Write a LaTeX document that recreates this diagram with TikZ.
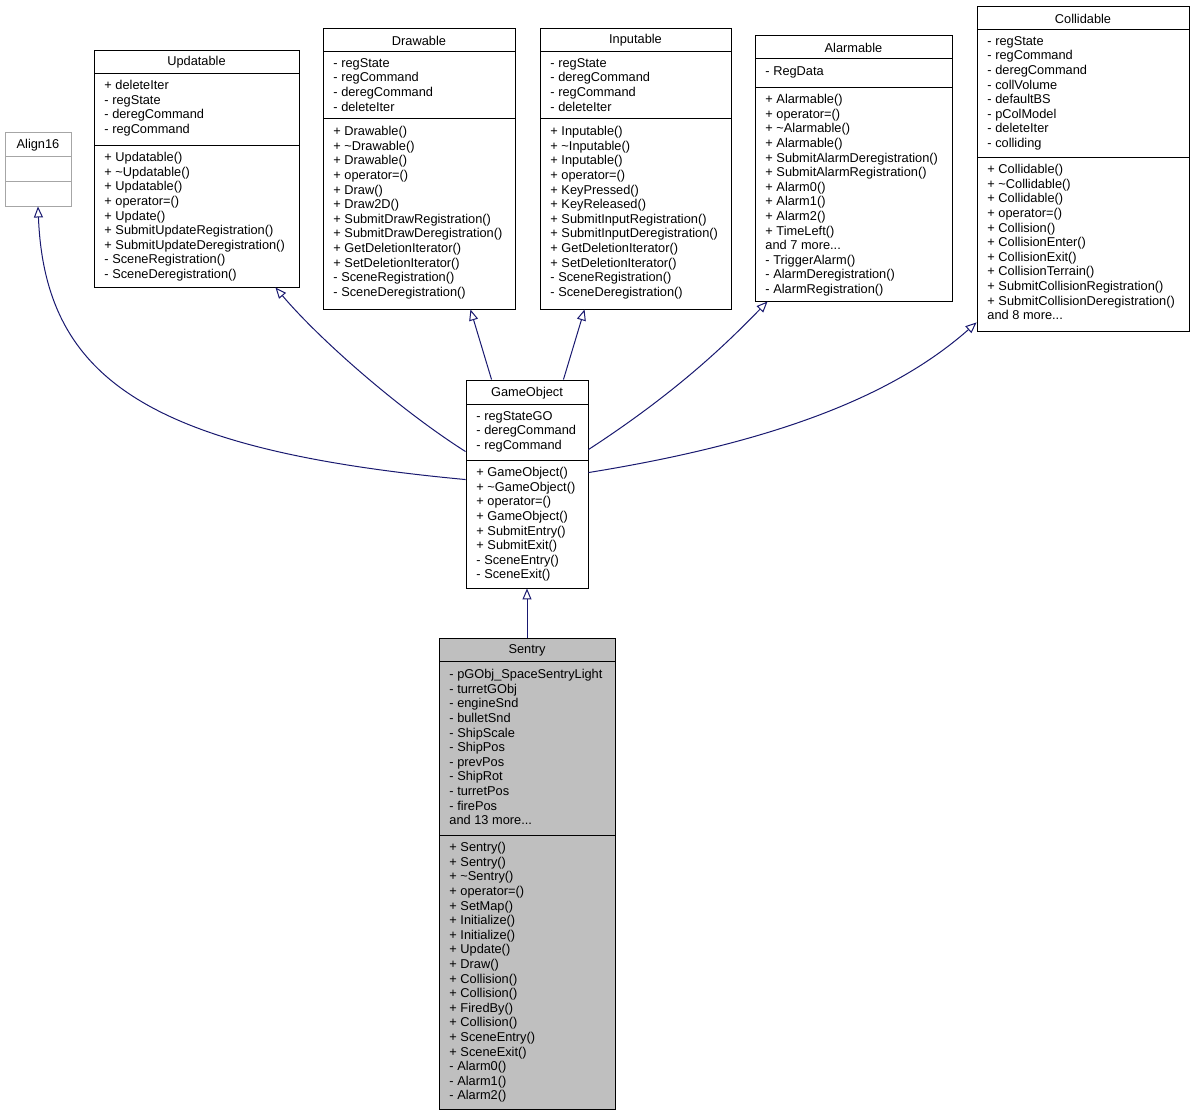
\documentclass[tikz,border=0pt]{standalone}
\usepackage{fontspec}
\setmainfont{Liberation Sans}
\usetikzlibrary{arrows.meta}
\definecolor{edgec}{HTML}{191970}
\definecolor{sentryfill}{HTML}{BFBFBF}
\newcommand\umlcls[9]{%
  \node[draw=#9,inner sep=0,minimum width={(#4-#2)*1pt},minimum height={(#5-#3)*1pt}] (#1) at ({(#2+#4)/2},{(#3+#5)/2}) {};
  \draw[#9] (#2,#6) -- (#4,#6) (#2,#7) -- (#4,#7);
  \node[ttl] (#1-t) at ({(#2+#4)/2},{(#3+#6)/2+1}) {#8};
}
\begin{document}
\begin{tikzpicture}[x=1pt,y=-1pt,line width=0.9pt,
  ttl/.style={inner sep=0,font=\fontsize{12.8}{14.6}\selectfont},
  txt/.style={anchor=north west,inner sep=0,align=left,font=\fontsize{12.8}{14.6}\selectfont},
  inh/.style={draw=edgec,line width=1pt,-{Triangle[open,length=11pt,width=9pt]}}]
\useasboundingbox[fill=white] (0,0) rectangle (1195,1116);
% Sentry
\fill[sentryfill] (439,638) rectangle (615,1109);
\umlcls{align}{5}{132}{71}{206}{156}{181}{Align16}{gray!70}
\umlcls{upd}{94}{50}{299}{287}{73}{145}{Updatable}{black}
\umlcls{drw}{323}{28}{515}{309}{51}{118}{Drawable}{black}
\umlcls{inp}{540}{28}{731}{309}{51}{118}{Inputable}{black}
\umlcls{alm}{755}{35}{952}{301}{58}{87}{Alarmable}{black}
\umlcls{col}{977}{6}{1189}{331}{29}{157}{Collidable}{black}
\umlcls{go}{466}{380}{588}{588}{404}{460}{GameObject}{black}
\umlcls{sen}{439}{638}{615}{1109}{661}{835}{Sentry}{black}
% texts
\node[txt] (upda) at (104,80) {+ deleteIter\\- regState\\- deregCommand\\- regCommand};
\node[txt] (updm) at (104,152) {+ Updatable()\\+ \textasciitilde Updatable()\\+ Updatable()\\+ operator=()\\+ Update()\\+ SubmitUpdateRegistration()\\+ SubmitUpdateDeregistration()\\- SceneRegistration()\\- SceneDeregistration()};
\node[txt] (drwa) at (333,58) {- regState\\- regCommand\\- deregCommand\\- deleteIter};
\node[txt] (drwm) at (333,126) {+ Drawable()\\+ \textasciitilde Drawable()\\+ Drawable()\\+ operator=()\\+ Draw()\\+ Draw2D()\\+ SubmitDrawRegistration()\\+ SubmitDrawDeregistration()\\+ GetDeletionIterator()\\+ SetDeletionIterator()\\- SceneRegistration()\\- SceneDeregistration()};
\node[txt] (inpa) at (550,58) {- regState\\- deregCommand\\- regCommand\\- deleteIter};
\node[txt] (inpm) at (550,126) {+ Inputable()\\+ \textasciitilde Inputable()\\+ Inputable()\\+ operator=()\\+ KeyPressed()\\+ KeyReleased()\\+ SubmitInputRegistration()\\+ SubmitInputDeregistration()\\+ GetDeletionIterator()\\+ SetDeletionIterator()\\- SceneRegistration()\\- SceneDeregistration()};
\node[txt] (alma) at (765,66) {- RegData};
\node[txt] (almm) at (765,94) {+ Alarmable()\\+ operator=()\\+ \textasciitilde Alarmable()\\+ Alarmable()\\+ SubmitAlarmDeregistration()\\+ SubmitAlarmRegistration()\\+ Alarm0()\\+ Alarm1()\\+ Alarm2()\\+ TimeLeft()\\and 7 more...\\- TriggerAlarm()\\- AlarmDeregistration()\\- AlarmRegistration()};
\node[txt] (cola) at (987,36) {- regState\\- regCommand\\- deregCommand\\- collVolume\\- defaultBS\\- pColModel\\- deleteIter\\- colliding};
\node[txt] (colm) at (987,164) {+ Collidable()\\+ \textasciitilde Collidable()\\+ Collidable()\\+ operator=()\\+ Collision()\\+ CollisionEnter()\\+ CollisionExit()\\+ CollisionTerrain()\\+ SubmitCollisionRegistration()\\+ SubmitCollisionDeregistration()\\and 8 more...};
\node[txt] (goa) at (476,411) {- regStateGO\\- deregCommand\\- regCommand};
\node[txt] (gom) at (476,467) {+ GameObject()\\+ \textasciitilde GameObject()\\+ operator=()\\+ GameObject()\\+ SubmitEntry()\\+ SubmitExit()\\- SceneEntry()\\- SceneExit()};
\node[txt] (sena) at (449,669) {- pGObj\_SpaceSentryLight\\- turretGObj\\- engineSnd\\- bulletSnd\\- ShipScale\\- ShipPos\\- prevPos\\- ShipRot\\- turretPos\\- firePos\\and 13 more...};
\node[txt] (senm) at (449,842) {+ Sentry()\\+ Sentry()\\+ \textasciitilde Sentry()\\+ operator=()\\+ SetMap()\\+ Initialize()\\+ Initialize()\\+ Update()\\+ Draw()\\+ Collision()\\+ Collision()\\+ FiredBy()\\+ Collision()\\+ SceneEntry()\\+ SceneExit()\\- Alarm0()\\- Alarm1()\\- Alarm2()};
% edges
\draw[inh] (sen.north) -- (go.south);
\draw[inh] ([yshift=-100pt]go.north west) .. controls (150,450) and (45,380) .. (align.south);
\draw[inh] ([yshift=-72pt]go.north west) .. controls (400,410) and (320,340) .. ([xshift=-24pt]upd.south east);
\draw[inh] ([xshift=26pt]go.north west) -- ([xshift=-45pt]drw.south east);
\draw[inh] ([xshift=-25pt]go.north east) -- ([xshift=45pt]inp.south west);
\draw[inh] ([yshift=-70pt]go.north east) .. controls (680,390) and (730,340) .. ([xshift=13pt]alm.south west);
\draw[inh] ([yshift=-93pt]go.north east) .. controls (790,440) and (900,390) .. ([yshift=9pt]col.south west);
\end{tikzpicture}
\end{document}
